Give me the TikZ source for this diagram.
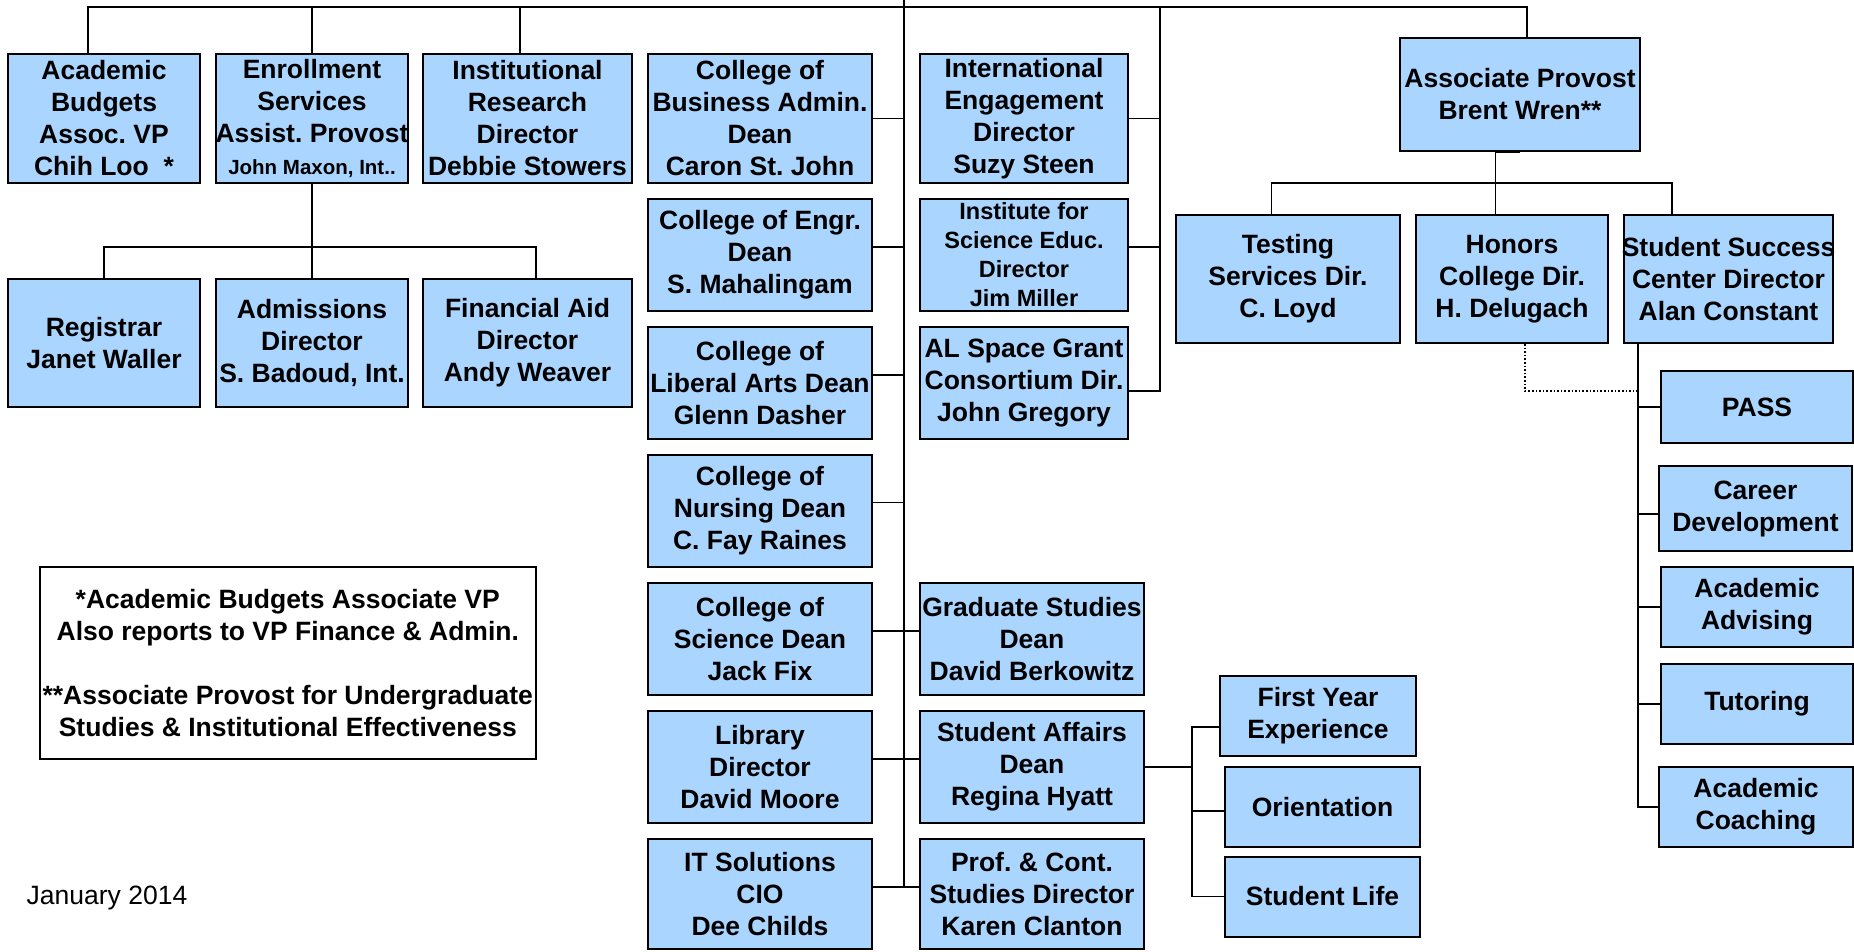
\documentclass[tikz,border=0pt]{standalone}
\usepackage{fontspec}
\setmainfont{Liberation Sans}
\usetikzlibrary{positioning}
\definecolor{boxblue}{RGB}{170,213,255}
\frenchspacing

\begin{document}
\begin{tikzpicture}
	[   x=1pt,y=-1pt,
	    bnode/.style 2 args={draw=black,line width=2pt,fill=boxblue,inner xsep=0pt,inner ysep=0pt,align=center,minimum width=#1,minimum height=#2,font=\bfseries\fontsize{26.5}{32}\selectfont},
	]
	\tikzset{normal line/.style={draw,line width=1.8pt}}
	\tikzset{dotted line/.style={draw,dotted,line width=1.6pt}}
	\useasboundingbox (0,0) rectangle (1854,951);

	% first row
	\node[bnode={192pt}{129pt}] (ab) at (104,118.5) {Academic\\Budgets\\Assoc. VP\\Chih Loo\ \ *};
	\node[bnode={192pt}{129pt}] (es) at (312,118.5) {Enrollment\\Services\\\makebox[0pt]{Assist. Provost}\\{\fontsize{20.5}{24}\selectfont John Maxon, Int..}};
	\node[bnode={209pt}{129pt}] (ir) at (527.5,118.5) {Institutional\\Research\\Director\\Debbie Stowers};

	\node[bnode={192pt}{128pt}] (reg) at (104,343) {Registrar\\Janet Waller};
	\node[bnode={192pt}{128pt}] (adm) at (312,343) {Admissions\\Director\\S. Badoud, Int.};
	\node[bnode={209pt}{128pt}] (fa) at (527.5,343) {Financial Aid\\Director\\Andy Weaver};

	% colleges
	\node[bnode={224pt}{129pt}] (c-1) at (760,118.5) {College of\\Business Admin.\\Dean\\Caron St. John};
	\node[bnode={224pt}{112pt}] (c-2) at (760,255) {College of Engr.\\Dean\\S. Mahalingam};
	\node[bnode={224pt}{112pt}] (c-3) at (760,383) {College of\\Liberal Arts Dean\\Glenn Dasher};
	\node[bnode={224pt}{112pt}] (c-4) at (760,510.5) {College of\\Nursing Dean\\C. Fay Raines};
	\node[bnode={224pt}{112pt}] (c-5) at (760,639) {College of\\Science Dean\\Jack Fix};
	\node[bnode={224pt}{112pt}] (c-6) at (760,767) {Library\\Director\\David Moore};
	\node[bnode={224pt}{110pt}] (c-7) at (760,894) {IT Solutions\\CIO\\Dee Childs};

	\node[bnode={208pt}{129pt}] (d-1) at (1024,118.5) {International\\Engagement\\Director\\Suzy Steen};
	\node[bnode={208pt}{112pt},font=\bfseries\fontsize{23.5}{29}\selectfont] (d-2) at (1024,255) {Institute for\\Science Educ.\\Director\\Jim Miller};
	\node[bnode={208pt}{112pt}] (d-3) at (1024,383) {AL Space Grant\\Consortium Dir.\\John Gregory};

	\node[bnode={224pt}{112pt}] (g-1) at (1032,639) {Graduate Studies\\Dean\\David Berkowitz};
	\node[bnode={224pt}{112pt}] (g-2) at (1032,767) {Student Affairs\\Dean\\Regina Hyatt};
	\node[bnode={224pt}{110pt}] (g-3) at (1032,894) {Prof. \& Cont.\\Studies Director\\Karen Clanton};

	\node[bnode={196pt}{80pt}] (s-1) at (1318,716) {First Year\\Experience};
	\node[bnode={195pt}{80pt}] (s-2) at (1322.5,807) {Orientation};
	\node[bnode={195pt}{80pt}] (s-3) at (1322.5,896.5) {Student Life};

	% associate provost
	\node[bnode={240pt}{113pt}] (ap) at (1520,94.5) {Associate Provost\\Brent Wren**};
	\node[bnode={224pt}{128pt}] (te) at (1288,279) {Testing\\Services Dir.\\C. Loyd};
	\node[bnode={192pt}{128pt}] (ho) at (1512,279) {Honors\\College Dir.\\H. Delugach};
	\node[bnode={209pt}{128pt}] (ss) at (1728.5,279) {\makebox[0pt]{Student Success}\\Center Director\\Alan Constant};

	\node[bnode={192pt}{72pt}] (r-1) at (1757,407) {PASS};
	\node[bnode={193pt}{85pt}] (r-2) at (1755.5,508.5) {Career\\Development};
	\node[bnode={192pt}{80pt}] (r-3) at (1757,607) {Academic\\Advising};
	\node[bnode={192pt}{80pt}] (r-4) at (1757,704) {Tutoring};
	\node[bnode={194pt}{80pt}] (r-5) at (1756,807) {Academic\\Coaching};

	\node[bnode={496pt}{192pt},fill=white] (note) at (287.8,662.6) {*Academic Budgets Associate VP\\Also reports to VP Finance \& Admin.\\[32pt]\makebox[0pt]{{*}{*}Associate Provost for Undergraduate}\\Studies \& Institutional Effectiveness};
	\node[font=\fontsize{26.5}{32}\selectfont] (jan) at (107,897.5) {January 2014};

	\coordinate (prov) at (904,0);
	\coordinate (t-l) at (88,7);
	\coordinate (t-r) at (1527,7);
	\coordinate (t-m) at (1160,7);
	\coordinate (ir-t) at (520,7);
	\coordinate (e-r) at (536,247);
	\coordinate (sa) at (1192,896.5);
	\coordinate (h-l) at (1271.5,183);
	\coordinate (h-r) at (1672,183);
	\coordinate (ss-j) at (1638,343);
	\coordinate (dt) at (1638,391);

	\path[normal line] (ab.north -| t-l) |- (t-r) -- (t-r |- ap.north);
	\path[normal line] (es.north) -- (es.north |- t-l);
	\path[normal line] (ir-t) -- (ir-t |- ir.north);

	\path[normal line] (es.south) -- (adm.north);
	\path[normal line] (reg.north) |- (e-r) -- (e-r |- fa.north);

	\foreach \n/\s in {c-1/0,c-2/8,c-3/8,c-4/8,c-5/8,c-6/8,c-7/7}
	{
		\path[normal line] ([yshift=\s pt]\n.east) -| (prov);
	}
	\foreach \n/\s in {g-1/8,g-2/8,g-3/7}
	{
		\path[normal line] ([yshift=\s pt]\n.west) -| (prov);
	}
	\foreach \n/\s in {d-1/0,d-2/8,d-3/-8}
	{
		\path[normal line] ([yshift=\s pt]\n.east) -| (t-m);
	}

	\path[normal line] (g-2.east) -- (g-2.east -| sa);
	\foreach \n/\s in {s-1/-11,s-2/-4,s-3/0}
	{
		\path[normal line] ([yshift=\s pt]\n.west) -| (sa);
	}

	\path[normal line] (te.north -| h-l) |- (h-r) -- (h-r |- ss.north);
	\path[normal line] ([xshift=-16.5pt]ho.north) |- (ap.south);

	\foreach \n/\s in {r-1/0,r-2/-5.5,r-3/0,r-4/0,r-5/0}
	{
		\path[normal line] ([yshift=\s pt]\n.west) -| (ss-j);
	}
	\path[dotted line] ([xshift=13pt]ho.south) |- (dt);

\end{tikzpicture}
\end{document}
